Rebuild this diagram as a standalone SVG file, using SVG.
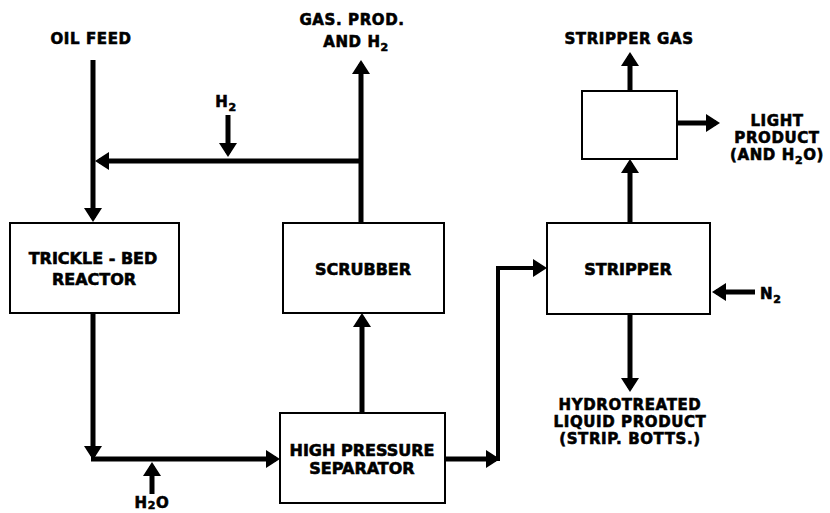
<svg xmlns="http://www.w3.org/2000/svg" width="830" height="513" viewBox="0 0 830 513">
<style>
.box{fill:#fff;stroke:#000;stroke-width:2}
.ln{fill:none;stroke:#000;stroke-width:5;stroke-linejoin:miter}
text{font-family:"DejaVu Sans","Liberation Sans",sans-serif;font-weight:bold;fill:#000;stroke:#000;stroke-width:0.6px}
.bt{font-size:16px;text-anchor:middle}
.lt{font-size:15px;text-anchor:middle;letter-spacing:0.6px}
.sub{font-size:11px}
</style>
<defs>
<marker id="ah" markerUnits="userSpaceOnUse" markerWidth="15" markerHeight="18" refX="10" refY="9" orient="auto" viewBox="0 0 15 18">
<path d="M0,0 L14,9 L0,18 z" fill="#000"/>
</marker>
</defs>
<rect width="830" height="513" fill="#fff"/>
<g id="connectors">
<path class="ln" d="M93,60 V218" marker-end="url(#ah)"/>
<path class="ln" d="M361,161 H99" marker-end="url(#ah)"/>
<path class="ln" d="M228,115 V153" marker-end="url(#ah)"/>
<path class="ln" d="M361,223 V64" marker-end="url(#ah)"/>
<path class="ln" d="M93,313 V456" marker-end="url(#ah)"/>
<path class="ln" d="M91,459 H276" marker-end="url(#ah)"/>
<path class="ln" d="M152,494 V466" marker-end="url(#ah)"/>
<path class="ln" d="M362,413 V317" marker-end="url(#ah)"/>
<path class="ln" d="M445,459 H496" marker-end="url(#ah)"/>
<path class="ln" d="M498,461 V268 H543" marker-end="url(#ah)" style="stroke-width:4"/>
<path class="ln" d="M630,223 V163" marker-end="url(#ah)"/>
<path class="ln" d="M630,91 V56" marker-end="url(#ah)"/>
<path class="ln" d="M677,123 H716" marker-end="url(#ah)"/>
<path class="ln" d="M755,292 H716" marker-end="url(#ah)"/>
<path class="ln" d="M630,314 V388" marker-end="url(#ah)"/>
</g>
<g id="reactor">
<rect class="box" x="10" y="223" width="169" height="90"/>
<text class="bt" x="93" y="264">TRICKLE - BED</text>
<text class="bt" x="94" y="285">REACTOR</text>
</g>
<g id="scrubber">
<rect class="box" x="283" y="223" width="161" height="90"/>
<text class="bt" x="363" y="275">SCRUBBER</text>
</g>
<g id="separator">
<rect class="box" x="280" y="413" width="165" height="90"/>
<text class="bt" x="362" y="456">HIGH PRESSURE</text>
<text class="bt" x="362" y="474">SEPARATOR</text>
</g>
<g id="stripper">
<rect class="box" x="547" y="223" width="163" height="91"/>
<text class="bt" x="628" y="275">STRIPPER</text>
</g>
<g id="condenser">
<rect class="box" x="582" y="91" width="95" height="68"/>
</g>
<g id="labels">
<text class="lt" x="91" y="44">OIL FEED</text>
<text class="lt" x="352" y="25">GAS. PROD.</text>
<text class="lt" x="356" y="47">AND H<tspan class="sub" dy="4">2</tspan></text>
<text class="lt" x="226" y="107">H<tspan class="sub" dy="4">2</tspan></text>
<text class="lt" x="152" y="508">H<tspan class="sub" dy="1">2</tspan><tspan dy="-1">O</tspan></text>
<text class="lt" x="629" y="44">STRIPPER GAS</text>
<text class="lt" x="777" y="126">LIGHT</text>
<text class="lt" x="777" y="143">PRODUCT</text>
<text class="lt" x="777" y="160">(AND H<tspan class="sub" dy="4">2</tspan><tspan dy="-4">O)</tspan></text>
<text class="lt" x="760" y="299" style="text-anchor:start">N<tspan class="sub" dy="4">2</tspan></text>
<text class="lt" x="630" y="410">HYDROTREATED</text>
<text class="lt" x="630" y="427">LIQUID PRODUCT</text>
<text class="lt" x="630" y="444">(STRIP. BOTTS.)</text>
</g>
</svg>
